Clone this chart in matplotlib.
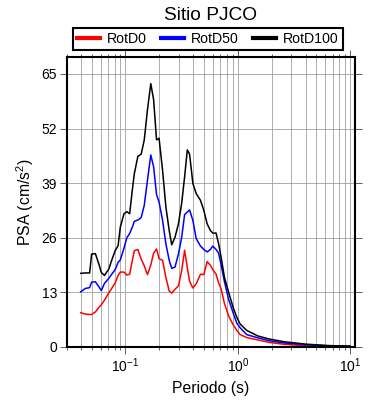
"""Pseudo-acceleration spectra RotD0 / RotD50 / RotD100, Sitio PJCO."""

import matplotlib

matplotlib.use("Agg")
import matplotlib.pyplot as plt
from matplotlib.ticker import NullFormatter, LogLocator

plt.rcParams["font.family"] = ["Liberation Sans", "DejaVu Sans"]
plt.rcParams["mathtext.fontset"] = "custom"
plt.rcParams["mathtext.rm"] = "Liberation Sans"
plt.rcParams["mathtext.it"] = "Liberation Sans:italic"
plt.rcParams["mathtext.bf"] = "Liberation Sans:bold"

# periods (s)
periods = [
    0.040, 0.044, 0.048, 0.050, 0.054, 0.058, 0.061, 0.065, 0.071, 0.077,
    0.081, 0.086, 0.090, 0.097, 0.103, 0.109, 0.115, 0.120, 0.129, 0.138,
    0.147, 0.157, 0.168, 0.178, 0.189, 0.199, 0.214, 0.229, 0.245, 0.258,
    0.276, 0.296, 0.316, 0.336, 0.355, 0.372, 0.398, 0.426, 0.465, 0.498,
    0.533, 0.570, 0.598, 0.640, 0.675, 0.710, 0.760, 0.830, 0.910, 0.980,
    1.05, 1.2, 1.5, 1.9, 2.6, 4.0, 6.3, 10.0,
]

# PSA (cm/s^2)
rotd0 = [
    8.1, 7.8, 7.7, 7.7, 8.3, 9.4, 10.0, 11.1, 12.8, 14.3,
    15.2, 17.0, 17.8, 17.8, 17.1, 17.3, 20.5, 22.9, 23.2, 20.9,
    19.3, 17.2, 19.5, 22.3, 23.3, 21.0, 20.6, 16.5, 13.3, 12.8,
    13.7, 14.5, 18.1, 23.0, 18.9, 15.6, 14.0, 15.0, 17.3, 17.2,
    20.3, 19.4, 18.4, 17.3, 15.2, 13.8, 10.3, 7.3, 5.2, 3.9,
    2.9, 2.2, 1.65, 1.05, 0.58, 0.24, 0.09, 0.04,
]
rotd50 = [
    13.1, 13.9, 14.1, 15.4, 15.5, 14.3, 13.4, 15.1, 16.3, 17.6,
    18.4, 20.1, 20.7, 23.5, 26.0, 27.0, 28.5, 29.9, 30.2, 30.8,
    33.7, 39.7, 45.7, 42.9, 36.3, 34.5, 30.1, 24.5, 20.6, 18.7,
    19.0, 22.1, 26.0, 31.5, 32.1, 32.6, 30.1, 25.8, 24.0, 23.2,
    22.6, 23.2, 24.0, 23.2, 22.3, 19.5, 15.5, 11.2, 8.0, 5.6,
    4.5, 2.9, 2.15, 1.45, 0.9, 0.48, 0.24, 0.12,
]
rotd100 = [
    17.5, 17.6, 17.6, 22.1, 22.2, 19.7, 17.7, 17.0, 18.5, 21.3,
    22.9, 24.1, 28.5, 31.7, 32.2, 31.7, 37.3, 41.3, 45.4, 45.9,
    49.3, 56.5, 62.7, 58.9, 49.3, 49.7, 42.0, 33.3, 27.7, 24.3,
    26.1, 29.3, 34.1, 40.5, 46.9, 45.9, 38.9, 36.5, 34.9, 32.5,
    29.3, 27.7, 27.1, 27.1, 24.5, 21.3, 16.5, 12.9, 9.3, 7.0,
    5.4, 3.9, 2.6, 1.85, 1.2, 0.64, 0.3, 0.15,
]

series = [("RotD0", rotd0, "#ff0000"), ("RotD50", rotd50, "#0000ff"), ("RotD100", rotd100, "#000000")]
yticks = [0, 13, 26, 39, 52, 65]


def main():
    fig = plt.figure(figsize=(3.9, 4.0), dpi=100)
    ax = fig.add_axes([0.171, 0.133, 0.739, 0.724])

    for name, vals, col in series:
        ax.plot(periods, vals, color=col, lw=1.1, label=name)

    ax.set_xscale("log")
    ax.set_xlim(0.03, 11)
    ax.set_ylim(0, 69)
    ax.set_yticks(yticks)
    ax.xaxis.set_minor_locator(LogLocator(base=10, subs=range(2, 10), numticks=20))
    ax.xaxis.set_minor_formatter(NullFormatter())

    ax.grid(True, which="both", axis="x", color="#a0a0a0", lw=0.6)
    ax.grid(True, which="major", axis="y", color="#a0a0a0", lw=0.6)
    ax.set_axisbelow(True)

    ax.tick_params(which="both", direction="out", top=True, right=True,
                   labelsize=10, width=0.6, color="#444")
    ax.tick_params(which="major", length=5, pad=2)
    ax.tick_params(which="minor", length=2.5)
    for sp in ax.spines.values():
        sp.set_linewidth(1.5)

    ax.set_xlabel("Periodo (s)", fontsize=11.3, labelpad=4)
    ax.set_ylabel("PSA (cm/s$^2$)", fontsize=11.3, labelpad=4)
    ax.set_title("Sitio PJCO", fontsize=13.8, pad=27)

    leg = ax.legend(loc="lower center", bbox_to_anchor=(0.49, 1.024), ncol=3,
                    fontsize=10.2, frameon=True, fancybox=False, framealpha=1,
                    edgecolor="black", borderpad=0.3, handlelength=1.6,
                    handletextpad=0.5, columnspacing=1.0, borderaxespad=0)
    leg.get_frame().set_linewidth(1.5)
    for h in leg.get_lines():
        h.set_linewidth(3)

    fig.savefig("out.png", dpi=100)
    plt.close(fig)


if __name__ == "__main__":
    main()
